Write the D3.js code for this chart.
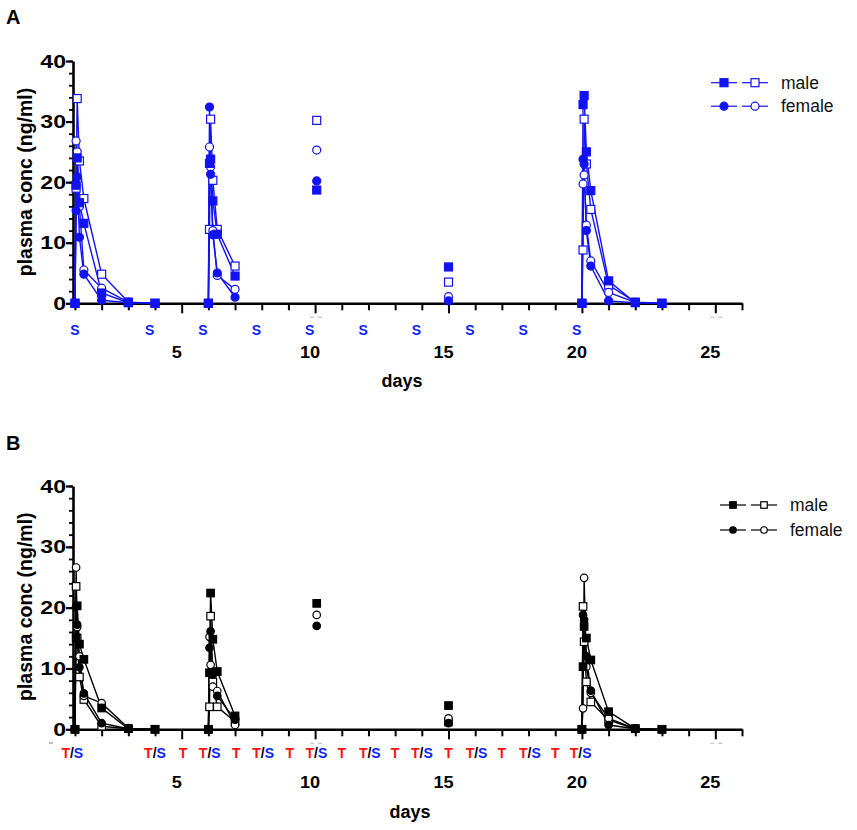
<!DOCTYPE html>
<html>
<head>
<meta charset="utf-8">
<script src="https://cdn.jsdelivr.net/npm/d3@7"></script>
<style>
  body { margin: 0; background: #fff; }
  svg { display: block; font-family: "Liberation Sans", Arial, sans-serif; }
</style>
</head>
<body>
<svg id="chart" width="857" height="830"></svg>
<script>
// sampling days (pre-dose, 1h, 2h, 4h, 8h, then daily) and which run each sample belongs to
const sampleDays = [1, 1.042, 1.083, 1.167, 1.333, 2, 3, 4,
  6, 6.042, 6.083, 6.167, 6.333, 7,
  10.06,
  15,
  20, 20.042, 20.083, 20.167, 20.333, 21, 22, 23];
const sampleRun = [1, 1, 1, 1, 1, 1, 1, 1, 2, 2, 2, 2, 2, 2, 3, 4, 5, 5, 5, 5, 5, 5, 5, 5];

// panel A (ng/ml)
const aMaleFilled = [0, 19.5, 24.0, 16.6, 13.2, 1.7, 0.1, 0, 0, 23.1, 23.8, 16.9, 11.4, 4.5, 18.7, 6.0, 0, 32.8, 34.3, 25.0, 18.6, 3.7, 0.1, 0];
const aMaleOpen = [0, 19.0, 33.8, 23.5, 17.3, 4.8, 0.2, 0, 0, 12.2, 30.4, 20.3, 12.2, 6.15, 30.2, 3.5, 0, 8.8, 30.4, 23.0, 15.5, 3.0, 0.2, 0];
const aFemaleFilled = [0, 15.3, 20.9, 10.9, 4.8, 0.5, 0.1, null, 0, 32.4, 21.3, 11.3, 5.0, 1.0, 20.2, 0.4, 0, 23.8, 23.0, 12.0, 6.15, 0.4, 0.1, null];
const aFemaleOpen = [0, 26.8, 25.0, 16.0, 5.5, 2.5, 0.2, null, 0, 25.8, 22.5, 12.0, 4.6, 2.3, 25.3, 1.1, 0, 19.7, 21.2, 12.9, 7.0, 1.8, 0.15, null];

// panel B (ng/ml)
const bMaleFilled = [0, 15.0, 20.3, 14.0, 11.5, 3.5, 0.1, 0, 0, 9.3, 22.4, 14.8, 9.5, 2.2, 20.7, 3.9, 0, 10.3, 16.9, 15.0, 11.4, 2.9, 0.1, 0];
const bMaleOpen = [0, 23.5, 15.0, 8.6, 4.9, 0.5, 0.1, 0, 0, 3.7, 18.6, 7.8, 3.7, 1.25, null, 1.2, 0, 20.2, 14.4, 7.8, 4.5, 1.5, 0.1, 0];
const bFemaleFilled = [0, 20.2, 17.2, 10.2, 5.9, 1.0, 0.1, null, 0, 13.4, 16.1, 9.0, 5.5, 1.6, 17.0, 1.0, 0, 18.8, 18.0, 12.0, 6.35, 0.7, 0.1, null];
const bFemaleOpen = [0, 26.6, 16.8, 12.0, 5.5, 4.3, 0.2, null, 0, 15.2, 10.6, 7.0, 6.3, 0.7, 18.8, 1.8, 0, 3.45, 24.9, 10.3, 6.0, 1.8, 0.1, null];

// treatment labels under the x axis
const aSDays = [1, 3.8, 5.8, 7.8, 9.8, 11.8, 13.8, 15.8, 17.8, 19.8];
const bTSDays = [0.9, 4, 6.05, 8.05, 10.05, 12.05, 14, 16.05, 18.05, 19.95];
const bTDays = [5.05, 7.05, 9.05, 11, 13, 15, 17, 19];

const xTickLabels = [5, 10, 15, 20, 25];
const yMajor = [0, 10, 20, 30, 40];
const faintDays = [10, 25];
const legendItems = [{ label: 'male', shape: 'square' }, { label: 'female', shape: 'circle' }];

const svg = d3.select('#chart');

function drawPanel(p) {
  const g = svg.append('g');
  const x = d3.scaleLinear().domain([0.926, 26]).range([73, 742]);
  const y = d3.scaleLinear().domain([0, 40]).range([p.y0, p.y40]);

  g.append('text').attr('x', 6).attr('y', p.letterY)
    .attr('font-size', 20).attr('font-weight', 'bold').text(p.letter);

  // y axis
  g.append('g').attr('transform', 'translate(73,0)')
    .call(d3.axisLeft(y).tickValues(d3.range(0, 41, 2)).tickSize(4).tickSizeOuter(0).tickFormat(''))
    .call(a => a.selectAll('line').attr('stroke', '#000').attr('stroke-width', 1.8))
    .call(a => a.select('.domain').remove());
  g.append('g').attr('transform', 'translate(73,0)')
    .call(d3.axisLeft(y).tickValues(yMajor).tickSize(7).tickSizeOuter(0).tickFormat(''))
    .call(a => a.selectAll('line').attr('stroke', '#000').attr('stroke-width', 2.2))
    .call(a => a.select('.domain').attr('stroke', '#000').attr('stroke-width', 2.6));
  g.append('g').selectAll('text').data(yMajor).join('text')
    .attr('transform', d => `translate(66,${y(d)}) scale(1.25,1)`)
    .attr('dy', '0.36em').attr('text-anchor', 'end')
    .attr('font-size', 18.5).attr('font-weight', 'bold').text(d => d);
  g.append('text')
    .attr('transform', `translate(25,${p.titleY}) rotate(-90)`)
    .attr('dy', '0.35em').attr('text-anchor', 'middle')
    .attr('font-size', 19.5).attr('font-weight', 'bold').text('plasma conc (ng/ml)');

  // x axis
  g.append('g').attr('transform', `translate(0,${p.y0})`)
    .call(d3.axisBottom(x).tickValues(d3.range(1, 27)).tickSize(7).tickSizeOuter(0).tickFormat(''))
    .call(a => a.selectAll('line').attr('stroke', '#000').attr('stroke-width', 2)
      .attr('y2', d => d % 5 === 0 ? 10 : 7))
    .call(a => a.select('.domain').attr('stroke', '#000').attr('stroke-width', 2.6));
  g.append('g').selectAll('text').data(xTickLabels).join('text')
    .attr('transform', d => `translate(${x(d) - 5},${p.tickLabelY}) scale(1.1,1)`)
    .attr('text-anchor', 'middle').attr('font-size', 16.5).attr('font-weight', 'bold').text(d => d);
  g.append('text').attr('x', p.daysX).attr('y', p.daysY).attr('text-anchor', 'middle')
    .attr('font-size', 18).attr('font-weight', 'bold').text('days');

  // faint scan marks under the axis
  const fm = g.append('g').attr('stroke', '#c4c4c4').attr('stroke-width', 1.2);
  faintDays.forEach(d => {
    [-5, 3].forEach(o => {
      fm.append('line').attr('x1', x(d) + o).attr('x2', x(d) + o + 4)
        .attr('y1', p.y0 + 14).attr('y2', p.y0 + 14);
    });
  });

  // treatment labels
  p.labels(g, x);

  // series
  const line = d3.line().x(d => x(d.day)).y(d => y(d.v));
  p.series.forEach(s => {
    const pts = sampleDays.map((day, i) => ({ day, v: s.values[i], run: sampleRun[i] }))
      .filter(d => d.v != null);
    s.pts = pts;
    d3.groups(pts, d => d.run).forEach(([, arr]) => {
      if (arr.length < 2) return;
      g.append('path').datum(arr).attr('d', line)
        .attr('fill', 'none').attr('stroke', p.color).attr('stroke-width', 1.4);
    });
  });
  p.series.forEach(s => {
    drawMarkers(g.append('g'), s.pts.map(d => [x(d.day), y(d.v)]), s.shape, s.filled, p.color, p.mk);
  });

  // legend
  const lg = g.append('g');
  legendItems.forEach((it, i) => {
    const ly = p.legY + i * p.legGap;
    const segs = [[p.legX, p.legX + 26], [p.legX + 31, p.legX + 57]];
    segs.forEach(([a, b], j) => {
      lg.append('line').attr('x1', a).attr('x2', b).attr('y1', ly).attr('y2', ly)
        .attr('stroke', p.color).attr('stroke-width', 1.2);
      drawMarkers(lg.append('g'), [[(a + b) / 2, ly]], it.shape, j === 0, p.color, p.legMk);
    });
    lg.append('text').attr('x', p.legTextX).attr('y', ly).attr('dy', '0.35em')
      .attr('font-size', 17.5).attr('fill', '#111').text(it.label);
  });
}

function drawMarkers(sel, pts, shape, filled, color, size) {
  if (shape === 'square') {
    sel.selectAll('rect').data(pts).join('rect')
      .attr('x', d => d[0] - size / 2).attr('y', d => d[1] - size / 2)
      .attr('width', size).attr('height', size)
      .attr('fill', filled ? color : '#fff').attr('stroke', color).attr('stroke-width', 1.2);
  } else {
    sel.selectAll('circle').data(pts).join('circle')
      .attr('cx', d => d[0]).attr('cy', d => d[1]).attr('r', size / 2)
      .attr('fill', filled ? color : '#fff').attr('stroke', color).attr('stroke-width', 1.2);
  }
}

const blue = '#1212f2';

drawPanel({
  letter: 'A', letterY: 24, y0: 303.3, y40: 61, titleY: 182,
  tickLabelY: 357.5, daysX: 402, daysY: 387, color: blue, mk: 8, legMk: 8,
  legX: 711, legY: 82.7, legGap: 23.5, legTextX: 781,
  series: [
    { values: aMaleOpen, shape: 'square', filled: false },
    { values: aFemaleOpen, shape: 'circle', filled: false },
    { values: aMaleFilled, shape: 'square', filled: true },
    { values: aFemaleFilled, shape: 'circle', filled: true }
  ],
  labels: (g, x) => {
    g.append('g').selectAll('text').data(aSDays).join('text')
      .attr('x', d => x(d)).attr('y', 335).attr('text-anchor', 'middle')
      .attr('font-size', 14).attr('font-weight', 'bold').attr('fill', '#0a24ff').text('S');
  }
});

drawPanel({
  letter: 'B', letterY: 450, y0: 729.3, y40: 486, titleY: 606.7,
  tickLabelY: 787.5, daysX: 410, daysY: 818, color: '#000', mk: 7.5, legMk: 6.5,
  legX: 720, legY: 505, legGap: 25, legTextX: 790,
  series: [
    { values: bMaleOpen, shape: 'square', filled: false },
    { values: bFemaleOpen, shape: 'circle', filled: false },
    { values: bMaleFilled, shape: 'square', filled: true },
    { values: bFemaleFilled, shape: 'circle', filled: true }
  ],
  labels: (g, x) => {
    const ts = g.append('g').selectAll('text').data(bTSDays).join('text')
      .attr('x', d => x(d)).attr('y', 758).attr('text-anchor', 'middle')
      .attr('font-size', 14).attr('font-weight', 'bold');
    ts.append('tspan').attr('fill', '#ff1010').text('T');
    ts.append('tspan').attr('fill', '#000').text('/');
    ts.append('tspan').attr('fill', '#0a24ff').text('S');
    g.append('g').selectAll('text').data(bTDays).join('text')
      .attr('x', d => x(d)).attr('y', 758).attr('text-anchor', 'middle')
      .attr('font-size', 14).attr('font-weight', 'bold').attr('fill', '#ff1010').text('T');
    g.append('line').attr('x1', 49).attr('x2', 53).attr('y1', 743).attr('y2', 743)
      .attr('stroke', '#999').attr('stroke-width', 1.2);
  }
});
</script>
</body>
</html>
